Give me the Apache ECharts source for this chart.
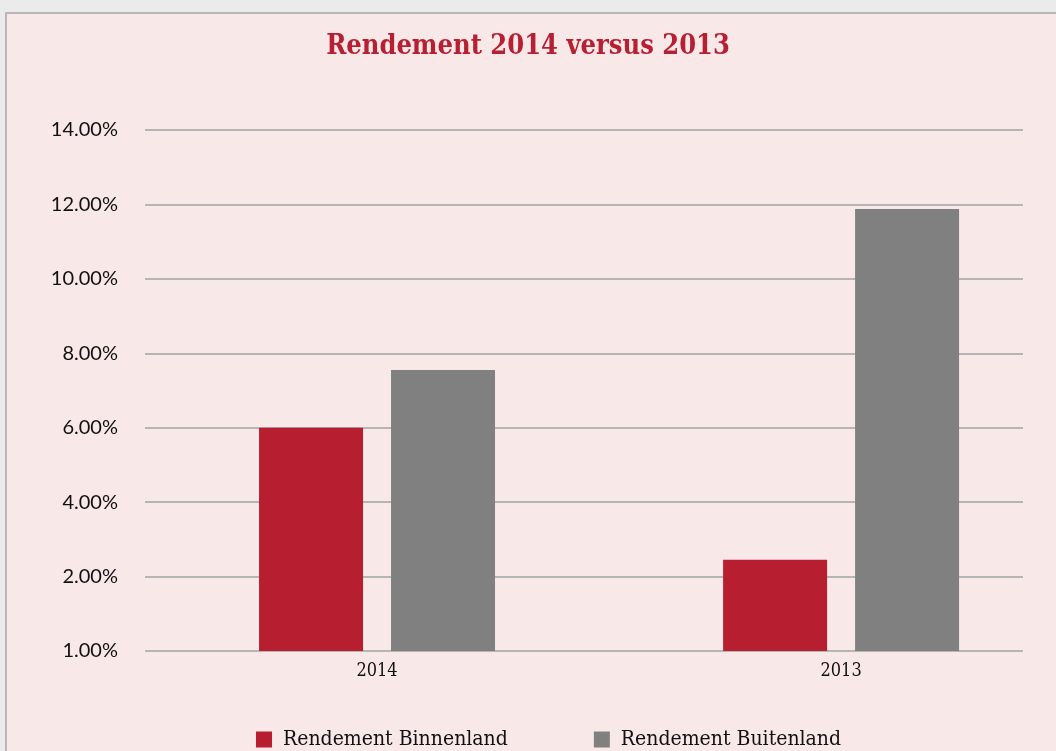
<!DOCTYPE html>
<html>
<head>
<meta charset="utf-8">
<script src="https://cdn.jsdelivr.net/npm/echarts@6/dist/echarts.min.js"></script>
<style>
  html, body { margin: 0; padding: 0; background: #ebebeb; }
  #panel {
    position: absolute; left: 5px; top: 12px; width: 1100px; height: 800px;
    background: #f9e8e8; border-left: 2px solid #b8b8b8; border-top: 2px solid #b8b8b8;
  }
  #chart { position: absolute; left: 0; top: 0; width: 1056px; height: 751px; }
</style>
</head>
<body>
<div id="panel"></div>
<div id="chart"></div>
<script>
const years = ["2014", "2013"];
const binnenland = [6.0, 2.45];
const buitenland = [7.55, 11.88];
const seriesNames = ["Rendement Binnenland", "Rendement Buitenland"];

const slab = "DejaVu Serif Condensed";
const sans = "Lato";

// the bars sit on an index axis that runs past the right end of the gridlines
const pairs = vals => vals.map((v, i) => [i, v]);

let chart = echarts.init(document.getElementById("chart"));
chart.setOption({
  backgroundColor: "transparent",
  animation: false,
  title: {
    text: "Rendement 2014 versus 2013",
    left: "center",
    top: 28,
    textStyle: { color: "#b71f33", fontFamily: slab, fontSize: 27, fontWeight: "bold" }
  },
  legend: {
    data: seriesNames,
    left: 251,
    top: 724,
    itemWidth: 16,
    itemHeight: 16,
    itemGap: 86,
    icon: "rect",
    textStyle: { color: "#111", fontFamily: slab, fontSize: 21, padding: [0, 0, 0, 6] }
  },
  grid: { left: 145, right: 33, top: 130, bottom: 100 },
  xAxis: {
    type: "value", min: -0.5, max: 1.392,
    axisLine: { show: false }, axisTick: { show: false }, splitLine: { show: false },
    axisLabel: {
      customValues: [0, 1], margin: 11, color: "#111", fontFamily: slab, fontSize: 18,
      formatter: v => years[Math.round(v)]
    }
  },
  yAxis: {
    type: "value", min: 0, max: 14, interval: 2,
    axisLine: { show: false }, axisTick: { show: false },
    splitLine: { lineStyle: { color: "#b5b5b5", width: 2 } },
    axisLabel: {
      margin: 27, color: "#111", fontFamily: sans, fontSize: 20,
      formatter: v => v === 0 ? "1.00%" : v.toFixed(2) + "%"
    }
  },
  series: [
    {
      name: seriesNames[0], type: "bar", data: pairs(binnenland),
      barWidth: 104, barGap: "26.9%", itemStyle: { color: "#b71f31" }
    },
    {
      name: seriesNames[1], type: "bar", data: pairs(buitenland),
      barWidth: 104, barGap: "26.9%", itemStyle: { color: "#808080" }
    }
  ]
});
</script>
</body>
</html>
